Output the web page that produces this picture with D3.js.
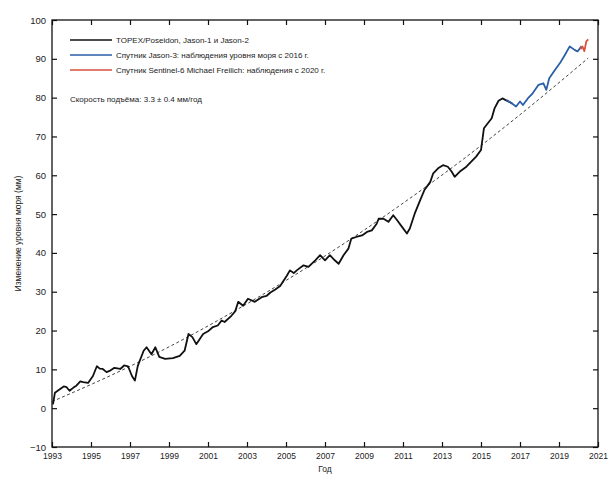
<!DOCTYPE html>
<html><head><meta charset="utf-8">
<script src="https://cdn.jsdelivr.net/npm/d3@7"></script>
<style>body{margin:0;background:#fff}svg{display:block}text{font-family:"Liberation Sans",Arial,sans-serif;fill:#222}</style>
</head><body><svg id="c" width="613" height="478"></svg>
<script>
const blackYears=[1993.05,1993.15,1993.4,1993.6,1993.75,1993.9,1994.1,1994.25,1994.45,1994.6,1994.85,1995.1,1995.3,1995.45,1995.6,1995.8,1995.95,1996.2,1996.5,1996.7,1996.9,1997.1,1997.25,1997.4,1997.7,1997.85,1998.1,1998.3,1998.5,1998.8,1999.2,1999.55,1999.8,2000.0,2000.2,2000.4,2000.75,2001.0,2001.25,2001.5,2001.7,2001.85,2002.2,2002.4,2002.55,2002.8,2003.05,2003.4,2003.75,2004.0,2004.2,2004.45,2004.7,2005.05,2005.2,2005.4,2005.55,2005.9,2006.15,2006.5,2006.75,2007.0,2007.25,2007.5,2007.7,2007.95,2008.2,2008.35,2008.6,2008.9,2009.15,2009.4,2009.65,2009.75,2010.0,2010.25,2010.5,2010.7,2010.95,2011.2,2011.35,2011.6,2011.85,2012.1,2012.4,2012.55,2012.8,2013.05,2013.3,2013.5,2013.65,2013.9,2014.25,2014.5,2014.75,2015.0,2015.15,2015.35,2015.55,2015.7,2015.9,2016.1,2016.4,2016.6];
const blackValues=[1.0,4.0,4.9,5.6,5.4,4.5,5.3,5.8,6.9,6.7,6.5,8.3,10.8,10.2,10.1,9.3,9.6,10.4,10.1,11.0,10.8,8.3,7.1,10.9,14.8,15.7,13.9,15.7,13.2,12.7,12.9,13.5,14.8,19.1,18.3,16.5,19.1,19.8,20.9,21.3,22.6,22.2,23.8,25.0,27.4,26.4,28.2,27.4,28.6,28.9,29.8,30.6,31.5,34.2,35.5,34.8,35.5,36.8,36.4,38.1,39.4,38.1,39.4,38.1,37.2,39.4,41.1,43.7,44.1,44.5,45.4,45.8,47.5,48.8,48.8,48.0,49.7,48.4,46.7,45.0,46.3,50.1,53.2,56.2,58.3,60.5,61.8,62.6,62.2,60.9,59.6,60.9,62.2,63.5,64.8,66.5,72.1,73.4,74.7,77.3,79.2,79.8,79.0,78.5];
const blueYears=[2016.3,2016.5,2016.8,2017.0,2017.15,2017.4,2017.65,2017.95,2018.2,2018.35,2018.5,2018.8,2019.05,2019.3,2019.55,2019.8,2019.95,2020.15];
const blueValues=[79.4,78.8,77.7,79.0,78.1,79.8,81.1,83.3,83.7,82.0,85.0,87.2,88.9,91.0,93.2,92.3,91.9,93.2];
const redYears=[2020.1,2020.2,2020.3,2020.4,2020.5];
const redValues=[92.5,93.2,92.0,94.5,95.0];
const trendYears=[1993,1996,1999,2002,2005,2008,2011,2014,2017,2020.5];
const trendValues=[1.7,8.4,15.8,24.0,32.9,42.5,52.8,63.8,75.6,90.2];
const xTicks=[1993,1995,1997,1999,2001,2003,2005,2007,2009,2011,2013,2015,2017,2019,2021];
const yTicks=[-10,0,10,20,30,40,50,60,70,80,90,100];
const legendLabels=["TOPEX/Poseidon, Jason-1 и Jason-2","Спутник Jason-3: наблюдения уровня моря с 2016 г.","Спутник Sentinel-6 Michael Freilich: наблюдения с 2020 г."];
const legendColors=["#111","#2a5fa8","#d9503c"];
const rateText="Скорость подъёма: 3.3 ± 0.4 мм/год";
const xTitle="Год", yTitle="Изменение уровня моря (мм)";

const svg=d3.select("#c");
const L=52,R=598,T=20,B=447;
const x=d3.scaleLinear().domain([1993,2021]).range([L,R]);
const y=d3.scaleLinear().domain([-10,100]).range([B,T]);

const line=d3.line().x(d=>x(d[0])).y(d=>y(d[1]));
const zip=(a,b)=>a.map((v,i)=>[v,b[i]]);
svg.append("path").datum(zip(trendYears,trendValues))
 .attr("d",d3.line().curve(d3.curveMonotoneX).x(d=>x(d[0])).y(d=>y(d[1])))
 .attr("fill","none").attr("stroke","#444").attr("stroke-width",1).attr("stroke-dasharray","3,2.5");
svg.append("path").datum(zip(blackYears,blackValues)).attr("d",line).attr("fill","none").attr("stroke","#111").attr("stroke-width",1.8).attr("stroke-linejoin","round");
svg.append("path").datum(zip(blueYears,blueValues)).attr("d",line).attr("fill","none").attr("stroke",legendColors[1]).attr("stroke-width",1.8).attr("stroke-linejoin","round");
svg.append("path").datum(zip(redYears,redValues)).attr("d",line).attr("fill","none").attr("stroke",legendColors[2]).attr("stroke-width",1.8).attr("stroke-linejoin","round");

const gb=svg.append("g").attr("transform",`translate(0,${B})`).call(d3.axisBottom(x).tickValues(xTicks).tickFormat(d3.format("d")).tickSizeInner(-5).tickSizeOuter(0).tickPadding(6));
const gt=svg.append("g").attr("transform",`translate(0,${T})`).call(d3.axisTop(x).tickValues(xTicks).tickFormat("").tickSizeInner(-5).tickSizeOuter(0));
const gl=svg.append("g").attr("transform",`translate(${L},0)`).call(d3.axisLeft(y).tickValues(yTicks).tickSizeInner(-5).tickSizeOuter(0).tickPadding(6));
const gr=svg.append("g").attr("transform",`translate(${R},0)`).call(d3.axisRight(y).tickValues(yTicks).tickFormat("").tickSizeInner(-5).tickSizeOuter(0));
[gb,gt,gl,gr].forEach(g=>{g.select(".domain").remove();g.selectAll("line").attr("stroke","#111").attr("stroke-width",1.2);g.selectAll("text").attr("font-family","Liberation Sans, Arial, sans-serif").attr("fill","#222");});
gb.selectAll("text").attr("font-size",8.5);
gl.selectAll("text").attr("font-size",9.5);
svg.append("rect").attr("x",L).attr("y",T).attr("width",R-L).attr("height",B-T).attr("fill","none").attr("stroke","#111").attr("stroke-width",1.3);

svg.append("text").attr("x",(L+R)/2).attr("y",472).attr("text-anchor","middle").attr("font-size",8.5).text(xTitle);
svg.append("text").attr("transform",`translate(21,${(T+B)/2}) rotate(-90)`).attr("text-anchor","middle").attr("font-size",8.5).text(yTitle);

const lg=svg.append("g");
legendLabels.forEach((t,i)=>{
  const yy=40+i*15;
  lg.append("line").attr("x1",70).attr("x2",112).attr("y1",yy).attr("y2",yy).attr("stroke",legendColors[i]).attr("stroke-width",1.7);
  lg.append("text").attr("x",116).attr("y",yy+3).attr("font-size",8).text(t);
});
svg.append("text").attr("x",70).attr("y",102).attr("font-size",8).text(rateText);
</script></body></html>
